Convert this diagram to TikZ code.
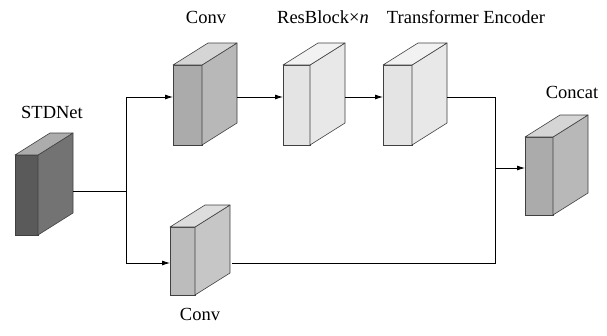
\documentclass[tikz,border=0pt]{standalone}
\usepackage{fontspec}
\setmainfont{Liberation Serif}
\usepackage{xcolor}
\usetikzlibrary{arrows,arrows.meta,calc,positioning}

\definecolor{darkslab}{HTML}{5A5A5A}
\definecolor{midslab}{HTML}{ABABAB}
\definecolor{lightslab}{HTML}{BCBCBC}
\definecolor{paleslab}{HTML}{E4E4E4}

\begin{document}
\begin{tikzpicture}[
x=1pt,y=-1pt,
front/.style={
  draw=black!75,
  line width=0.6pt,
  inner sep=0pt,
  outer sep=0pt,
  minimum width=27pt,
  minimum height=80pt
},
edge/.style={
  draw=black!75,
  line width=0.6pt,
  line join=round
},
lbl/.style={
  anchor=base,
  inner sep=0pt,
  font=\fontsize{18.5}{22}\selectfont
},
wire/.style={line width=0.8pt},
tip/.style={-{Latex[length=8pt,width=5pt]}}
]
\useasboundingbox (0,0) rectangle (607,335);

% front faces of the blocks
\node[front,fill=darkslab,minimum width=23pt] (stdnet) at (26.5,195) {};
\node[front,fill=midslab,minimum width=29pt] (conv1) at (187.5,105) {};
\node[front,fill=paleslab] (resblk) at (296.5,105) {};
\node[front,fill=paleslab,minimum width=29pt] (trans) at (397.5,105) {};
\node[front,fill=midslab,minimum width=28pt,minimum height=78pt] (concat) at (539,176) {};
\node[front,fill=lightslab,minimum width=25pt,minimum height=68pt] (conv2) at (182.5,261) {};

% side and top faces
\foreach \n/\c in {stdnet/darkslab,conv1/midslab,resblk/paleslab,trans/paleslab,concat/midslab,conv2/lightslab}{
  \draw[edge,fill=\c!85!white] (\n.north east) -- ++(35,-22)
    -- ($(\n.south east)+(35,-22)$) -- (\n.south east) -- cycle;
  \draw[edge,fill=\c!50!white] (\n.north west) -- ++(35,-22)
    -- ($(\n.north east)+(35,-22)$) -- (\n.north east) -- cycle;
}

% ports
\coordinate (stdnet-out) at ($(stdnet.east)+(35,-4)$);
\coordinate[right=53pt of stdnet-out] (split);
\coordinate (conv1-in) at ($(conv1.west)+(0,-8)$);
\coordinate (conv1-out) at ($(conv1.east)+(35,-8)$);
\coordinate (resblk-in) at ($(resblk.west)+(0,-8)$);
\coordinate (resblk-out) at ($(resblk.east)+(35,-8)$);
\coordinate (trans-in) at ($(trans.west)+(0,-8)$);
\coordinate (trans-out) at ($(trans.east)+(35,-8)$);
\coordinate (concat-in) at ($(concat.west)+(0,-8)$);
\coordinate (conv2-in) at ($(conv2.west)+(0,2)$);
\coordinate (conv2-out) at ($(conv2.east)+(37,2)$);
\coordinate (bend) at ($(trans-out)+(48,0)$);

\draw[wire] (stdnet-out) -- (split);
\draw[wire,tip] (split) |- (conv1-in);
\draw[wire,tip] (split) |- (conv2-in);
\draw[wire,tip] (conv1-out) -- (resblk-in);
\draw[wire,tip] (resblk-out) -- (trans-in);
\draw[wire] (trans-out) -| (bend |- conv2-out) -- (conv2-out);
\draw[wire,tip] (bend |- concat-in) -- (concat-in);

% labels
\node[lbl] (conv1-lbl) at (206,23) {Conv};
\node[lbl] (resblk-lbl) at (323,23) {ResBlock×\textit{n}};
\node[lbl] (trans-lbl) at (466,23) {Transformer Encoder};
\node[lbl] (stdnet-lbl) at (52,118) {STDNet};
\node[lbl] (concat-lbl) at (572,98) {Concat};
\node[lbl] (conv2-lbl) at (200,320) {Conv};
\end{tikzpicture}
\end{document}
